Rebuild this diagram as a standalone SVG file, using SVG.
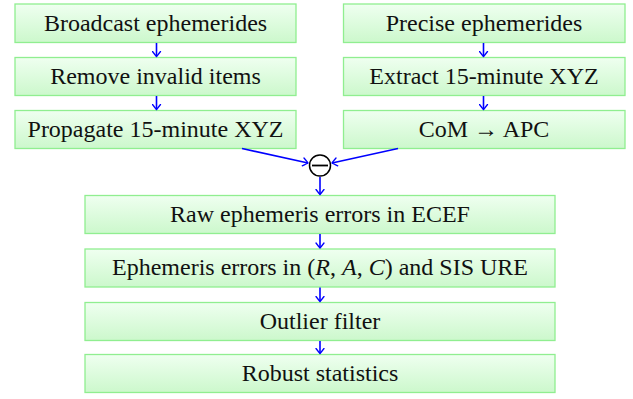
<svg xmlns="http://www.w3.org/2000/svg" width="633" height="399" viewBox="0 0 633 399">
<defs>
<linearGradient id="g" x1="0" y1="0" x2="0" y2="1">
<stop offset="0" stop-color="#effff0"/>
<stop offset="1" stop-color="#ccf8cc"/>
</linearGradient>
<marker id="ar" viewBox="-6 -5 8 10" markerWidth="8" markerHeight="10" refX="0" refY="0" orient="auto" markerUnits="userSpaceOnUse">
<path d="M-5,-4 Q-1,-1 0,0 Q-1,1 -5,4" fill="none" stroke="#0000ff" stroke-width="1.3" stroke-linecap="round"/>
</marker>
</defs>
<style>
.box{fill:url(#g);stroke:#90ee90;stroke-width:1.3}
.t{font-size:24px;fill:#111;text-anchor:middle}
.c{stroke:#0000ff;stroke-width:1.6;fill:none;marker-end:url(#ar)}
</style>
<g font-family="Liberation Serif, DejaVu Serif, serif">
<g id="n1"><rect class="box" x="15" y="4" width="281" height="38.5"/><text class="t" x="155.5" y="30.5">Broadcast ephemerides</text></g>
<g id="n2"><rect class="box" x="15" y="57.5" width="281" height="38"/><text class="t" x="155.5" y="83.5">Remove invalid items</text></g>
<g id="n3"><rect class="box" x="15" y="110.5" width="281" height="38"/><text class="t" x="155.5" y="136.5">Propagate 15-minute XYZ</text></g>
<g id="n4"><rect class="box" x="343.5" y="4" width="281.5" height="38.5"/><text class="t" x="484" y="30.5">Precise ephemerides</text></g>
<g id="n5"><rect class="box" x="343.5" y="57.5" width="281.5" height="38"/><text class="t" x="484" y="83.5">Extract 15-minute XYZ</text></g>
<g id="n6"><rect class="box" x="343.5" y="110.5" width="281.5" height="38"/><text class="t" x="484" y="136.5">CoM → APC</text></g>
<g id="minus"><circle cx="320" cy="165.5" r="10.5" fill="#fff" stroke="#000" stroke-width="1.5"/><line x1="312" y1="165.5" x2="328" y2="165.5" stroke="#000" stroke-width="1.8"/></g>
<g id="n7"><rect class="box" x="85" y="195.5" width="470" height="38"/><text class="t" x="320" y="221.5">Raw ephemeris errors in ECEF</text></g>
<g id="n8"><rect class="box" x="85" y="249" width="470" height="38"/><text class="t" x="320" y="275">Ephemeris errors in (<tspan font-style="italic">R</tspan>, <tspan font-style="italic">A</tspan>, <tspan font-style="italic">C</tspan>) and SIS URE</text></g>
<g id="n9"><rect class="box" x="85" y="302.5" width="470" height="38"/><text class="t" x="320" y="328.5">Outlier filter</text></g>
<g id="n10"><rect class="box" x="85" y="354.5" width="470" height="38"/><text class="t" x="320" y="380.5">Robust statistics</text></g>
</g>
<g id="connectors">
<line class="c" x1="156.5" y1="43" x2="156.5" y2="56.5"/>
<line class="c" x1="156.5" y1="96" x2="156.5" y2="109.5"/>
<line class="c" x1="483.5" y1="43" x2="483.5" y2="56.5"/>
<line class="c" x1="483.5" y1="96" x2="483.5" y2="109.5"/>
<line class="c" x1="242" y1="148.5" x2="308" y2="163"/>
<line class="c" x1="398" y1="148.5" x2="332" y2="163"/>
<line class="c" x1="320" y1="177" x2="320" y2="194.5"/>
<line class="c" x1="320" y1="234" x2="320" y2="248"/>
<line class="c" x1="320" y1="287.5" x2="320" y2="301.5"/>
<line class="c" x1="320" y1="341" x2="320" y2="353.5"/>
</g>
</svg>
